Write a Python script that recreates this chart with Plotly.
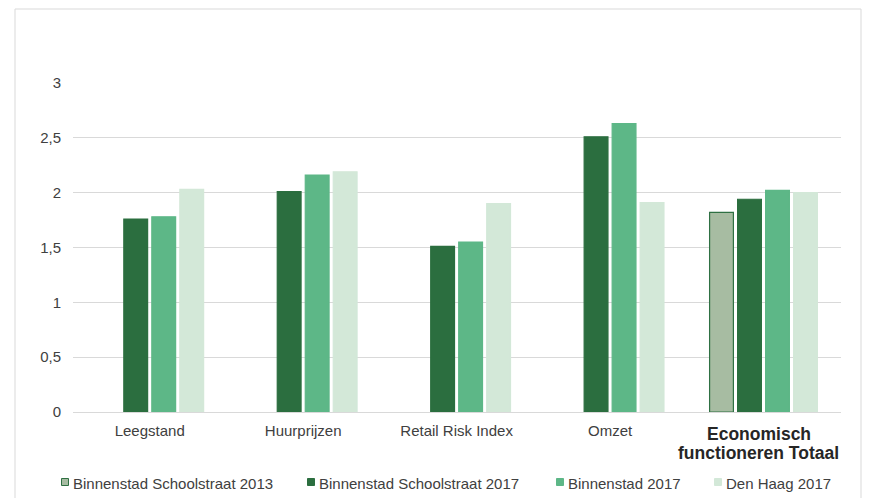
import plotly.graph_objects as go

categories = ["Leegstand", "Huurprijzen", "Retail Risk Index", "Omzet", "Economisch functioneren Totaal"]
tick_labels = ["Leegstand", "Huurprijzen", "Retail Risk Index", "Omzet", ""]
total_label_lines = ["Economisch", "functioneren Totaal"]
series_names = ["Binnenstad Schoolstraat 2013", "Binnenstad Schoolstraat 2017", "Binnenstad 2017", "Den Haag 2017"]
ss2013 = [None, None, None, None, 1.82]
ss2017 = [1.76, 2.01, 1.51, 2.51, 1.94]
bin2017 = [1.78, 2.16, 1.55, 2.63, 2.02]
dh2017 = [2.03, 2.19, 1.90, 1.91, 2.00]
y_ticks = [0, 0.5, 1, 1.5, 2, 2.5, 3]

fills = ["#a7bca2", "#2b6e3f", "#5db787", "#d3e8d8"]
lines = ["#2f7043", "#2b6e3f", "#5db787", "#d3e8d8"]
values = [ss2013, ss2017, bin2017, dh2017]

fig = go.Figure()
for name, vals, fc, lc in zip(series_names, values, fills, lines):
    fig.add_trace(go.Bar(x=categories, y=vals, name=name, showlegend=False,
                         marker=dict(color=fc, line=dict(color=lc, width=1.2))))

W, H = 855, 490
L, T, PW, PH = 65, 75, 768, 329
R = W - L - PW
B = H - T - PH

def px(x):
    return (x - L) / PW

def py(y):
    return (T + PH - y) / PH

# manual legend (figure pixel positions)
leg_sq_x = [57, 303, 552, 710]
leg_y = 474
shapes = [dict(type="rect", xref="paper", yref="paper",
               x0=px(7), x1=px(853), y0=py(H + 20), y1=py(1),
               line=dict(color="#d9d9d9", width=1), fillcolor="rgba(0,0,0,0)", layer="below")]
annotations = []
for name, sx, fc, lc in zip(series_names, leg_sq_x, fills, lines):
    shapes.append(dict(type="rect", xref="paper", yref="paper",
                       x0=px(sx - 3.5), x1=px(sx + 3.5), y0=py(leg_y + 3.5), y1=py(leg_y - 3.5),
                       fillcolor=fc, line=dict(color=lc, width=1)))
    annotations.append(dict(xref="paper", yref="paper", x=px(sx + 6), y=py(leg_y + 1),
                            text=name, showarrow=False, xanchor="left", yanchor="middle",
                            font=dict(size=15, color="#404040")))

# bold two-line category label for the total group
for line_text, ly in zip(total_label_lines, [426, 445]):
    annotations.append(dict(xref="x", yref="paper", x=categories[4], y=py(ly), xshift=-5,
                            text="<b>" + line_text + "</b>", showarrow=False,
                            xanchor="center", yanchor="middle",
                            font=dict(size=17.5, color="#262626")))

fig.update_layout(
    width=W, height=H,
    margin=dict(l=L, r=R, t=T, b=B),
    paper_bgcolor="white", plot_bgcolor="white",
    separators=",.",
    barmode="group", bargap=0.27, bargroupgap=0.15,
    font=dict(family="Liberation Sans, Arial, sans-serif", size=15, color="#404040"),
    xaxis=dict(tickmode="array", tickvals=categories, ticktext=tick_labels,
               showline=True, linecolor="#d9d9d9", linewidth=1, ticks="",
               ticklabelstandoff=5,
               tickfont=dict(size=15, color="#404040")),
    yaxis=dict(range=[0, 3], tickvals=y_ticks, showgrid=True, gridcolor="#d9d9d9",
               gridwidth=1, zeroline=False, ticks="", showline=False,
               ticklabelstandoff=11,
               tickfont=dict(size=15, color="#404040")),
    showlegend=False,
    shapes=shapes,
    annotations=annotations,
)

fig.write_html("out.html")
